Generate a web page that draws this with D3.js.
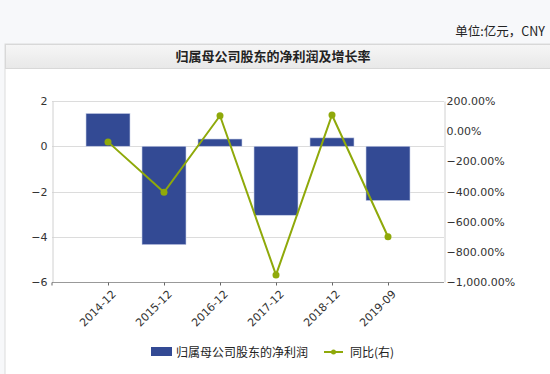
<!DOCTYPE html>
<meta charset="utf-8">
<style>
body { margin: 0; background: #f7f8fa; }
svg { display: block; }
.tick text { font: 11px "DejaVu Sans", sans-serif; fill: #333; }
.cjk { font-family: "Noto Sans CJK SC", sans-serif; fill: #222; }
</style>
<svg width="550" height="374"></svg>
<script src="https://cdn.jsdelivr.net/npm/d3@7"></script>
<script>

var categories = ["2014-12", "2015-12", "2016-12", "2017-12", "2018-12", "2019-09"];
var profit = [1.45, -4.35, 0.32, -3.05, 0.37, -2.4];       // 亿元
var growth = [-71, -405, 102, -953, 107, -700];             // %
var leftTicks = [2, 0, -2, -4, -6];
var rightTicks = [200, 0, -200, -400, -600, -800, -1000];

var svg = d3.select("svg");

var plot = {left: 52, right: 444, top: 101, bottom: 282};

// panel background
svg.append("rect")
    .attr("x", 5).attr("y", 44).attr("width", 550).attr("height", 340)
    .attr("fill", "#fff").attr("stroke", "#dcdcdc");

var grad = svg.append("defs").append("linearGradient")
    .attr("id", "hdr").attr("x1", 0).attr("y1", 0).attr("x2", 0).attr("y2", 1);
grad.append("stop").attr("offset", 0).attr("stop-color", "#f6f6f6");
grad.append("stop").attr("offset", 1).attr("stop-color", "#e8e8e8");

svg.append("rect")
    .attr("x", 5.5).attr("y", 44.5).attr("width", 550).attr("height", 24)
    .attr("fill", "url(#hdr)").attr("stroke", "#d8d8d8");

svg.append("text")
    .attr("class", "cjk")
    .attr("x", 273).attr("y", 60.5)
    .attr("text-anchor", "middle")
    .attr("font-size", 13).attr("font-weight", 600)
    .text("归属母公司股东的净利润及增长率");

svg.append("text")
    .attr("class", "cjk")
    .attr("x", 545).attr("y", 36)
    .attr("text-anchor", "end")
    .attr("font-size", 12.5)
    .text("单位:亿元，CNY");

var x = d3.scaleLinear().domain([-1, 6]).range([plot.left, plot.right]);
var y = d3.scaleLinear().domain([-6, 2]).range([plot.bottom, plot.top]);
var y2 = d3.scaleLinear().domain([-1000, 200]).range([plot.bottom, plot.top]);

// gridlines
svg.append("g").selectAll("line")
    .data(leftTicks)
    .enter().append("line")
    .attr("x1", plot.left).attr("x2", plot.right)
    .attr("y1", function(d) { return Math.round(y(d)) + 0.5; })
    .attr("y2", function(d) { return Math.round(y(d)) + 0.5; })
    .attr("stroke", "#dcdcdc");

// left axis
var yAxis = svg.append("g")
    .attr("transform", "translate(" + (plot.left + 0.5) + ",0)")
    .call(d3.axisLeft(y).tickValues(leftTicks).tickSize(0).tickPadding(5));
yAxis.select(".domain").attr("stroke", "#d0d0d0");

// right axis
var y2Axis = svg.append("g")
    .attr("transform", "translate(" + (plot.right + 0.5) + ",0)")
    .call(d3.axisRight(y2).tickValues(rightTicks).tickSize(0).tickPadding(2)
        .tickFormat(function(d) { return d3.format(",.2f")(d) + "%"; }));
y2Axis.select(".domain").attr("stroke", "#d0d0d0");

// bars
var barW = 44;
svg.append("g").selectAll("rect")
    .data(profit)
    .enter().append("rect")
    .attr("x", function(d, i) { return x(i) - barW / 2; })
    .attr("y", function(d) { return y(Math.max(0, d)); })
    .attr("width", barW)
    .attr("height", function(d) { return Math.abs(y(d) - y(0)); })
    .attr("fill", "#334a94")
    .attr("stroke", "#c8d0e8").attr("stroke-width", 0.6);

// bottom axis
var xAxis = svg.append("g")
    .attr("transform", "translate(0," + (plot.bottom + 0.5) + ")")
    .call(d3.axisBottom(x).tickValues(d3.range(categories.length)).tickSize(3).tickSizeOuter(0)
        .tickFormat(function(d) { return categories[d]; }));
xAxis.select(".domain").attr("stroke", "#999").attr("d", "M" + plot.left + ",0H" + plot.right);
xAxis.selectAll(".tick line").attr("stroke", "#666");
xAxis.selectAll(".tick text")
    .attr("text-anchor", "end")
    .attr("dy", 0)
    .attr("transform", "translate(4,8) rotate(-45)");
xAxis.append("line")
    .attr("x1", plot.left).attr("x2", plot.left).attr("y1", 0).attr("y2", 3).attr("stroke", "#666");

// growth line
var green = "#8fa90a";
svg.append("path")
    .datum(growth)
    .attr("fill", "none")
    .attr("stroke", green)
    .attr("stroke-width", 2)
    .attr("d", d3.line().x(function(d, i) { return x(i); }).y(function(d) { return y2(d); }));

svg.append("g").selectAll("circle")
    .data(growth)
    .enter().append("circle")
    .attr("cx", function(d, i) { return x(i); })
    .attr("cy", function(d) { return y2(d); })
    .attr("r", 3.5)
    .attr("fill", green);

// legend
var legend = svg.append("g");
legend.append("rect")
    .attr("x", 151).attr("y", 347).attr("width", 21).attr("height", 9)
    .attr("fill", "#334a94");
legend.append("text")
    .attr("class", "cjk")
    .attr("x", 176).attr("y", 356.5)
    .attr("font-size", 12)
    .text("归属母公司股东的净利润");
legend.append("line")
    .attr("x1", 324).attr("x2", 343).attr("y1", 352).attr("y2", 352)
    .attr("stroke", green).attr("stroke-width", 2);
legend.append("circle")
    .attr("cx", 333.5).attr("cy", 352).attr("r", 2.5)
    .attr("fill", green);
legend.append("text")
    .attr("class", "cjk")
    .attr("x", 350).attr("y", 356.5)
    .attr("font-size", 12)
    .text("同比(右)");

</script>
